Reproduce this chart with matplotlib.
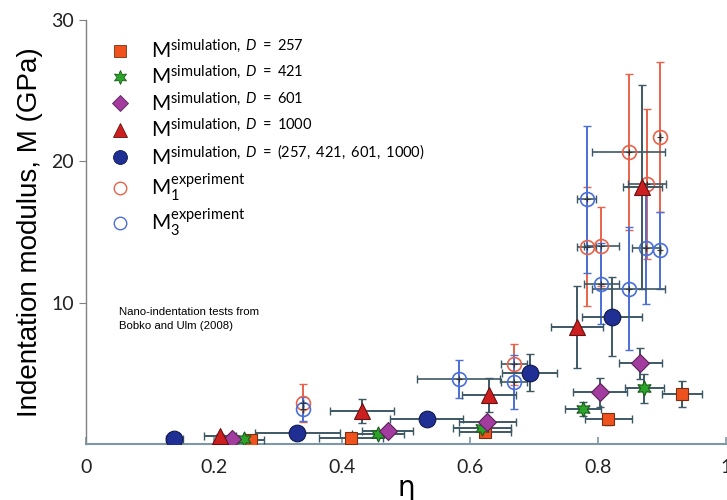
import matplotlib
matplotlib.use("Agg")
import matplotlib.pyplot as plt
from matplotlib.lines import Line2D

plt.rcParams['mathtext.fontset'] = 'custom'
plt.rcParams['mathtext.rm'] = 'Lato'
plt.rcParams['mathtext.it'] = 'Lato:italic'
plt.rcParams['mathtext.bf'] = 'Lato:bold'

# ---- data ----
d257_x = [0.258, 0.414, 0.623, 0.816, 0.931]
d257_y = [0.28, 0.40, 0.87, 1.74, 3.53]
d257_xe = [0.02, 0.05, 0.04, 0.037, 0.031]
d257_ye = [0.15, 0.15, 0.2, 0.4, 0.9]

d421_x = [0.246, 0.456, 0.618, 0.776, 0.872]
d421_y = [0.33, 0.70, 1.15, 2.47, 3.93]
d421_xe = [0.01, 0.04, 0.045, 0.028, 0.03]
d421_ye = [0.1, 0.15, 0.2, 0.5, 1.0]

d601_x = [0.228, 0.471, 0.627, 0.803, 0.866]
d601_y = [0.33, 0.94, 1.53, 3.65, 5.70]
d601_xe = [0.01, 0.04, 0.045, 0.042, 0.033]
d601_ye = [0.1, 0.2, 0.3, 1.0, 1.1]

d1000_x = [0.209, 0.431, 0.629, 0.767, 0.869]
d1000_y = [0.56, 2.36, 3.46, 8.3, 18.2]
d1000_xe = [0.025, 0.05, 0.042, 0.04, 0.031]
d1000_ye = [0.15, 0.85, 1.2, 2.9, 7.2]

dall_x = [0.138, 0.330, 0.532, 0.693, 0.821]
dall_y = [0.33, 0.80, 1.74, 5.04, 9.0]
dall_xe = [0.013, 0.066, 0.057, 0.043, 0.047]
dall_ye = [0.1, 0.2, 0.3, 1.3, 2.8]

m1_x = [0.339, 0.668, 0.782, 0.805, 0.848, 0.876, 0.896]
m1_y = [2.88, 5.65, 13.95, 14.0, 20.65, 18.4, 21.7]
m1_xe = [0.0, 0.02, 0.015, 0.027, 0.057, 0.03, 0.0]
m1_ye = [1.35, 1.45, 4.2, 2.8, 5.5, 5.3, 5.3]

m3_x = [0.339, 0.582, 0.668, 0.782, 0.805, 0.848, 0.874, 0.896]
m3_y = [2.45, 4.6, 4.4, 17.3, 11.35, 11.0, 13.9, 13.7]
m3_xe = [0.0, 0.065, 0.02, 0.015, 0.027, 0.057, 0.022, 0.0]
m3_ye = [0.85, 1.35, 1.9, 5.2, 2.85, 4.35, 4.0, 2.75]

xticks = [0, 0.2, 0.4, 0.6, 0.8, 1]
xticklabels = ['0', '0.2', '0.4', '0.6', '0.8', '1']
yticks = [10, 20, 30]

fig = plt.figure(figsize=(7.27, 5.0), dpi=100)
ax = fig.add_axes([0.1183, 0.112, 0.8807, 0.848])

ecol = '#3d5865'
c1 = '#e8634a'
c3 = '#4a6fd8'

# experiments: coloured vertical bars, dark horizontal bars
ax.errorbar(m1_x, m1_y, yerr=m1_ye, fmt='none', ecolor=c1, elinewidth=1.4, capsize=3, zorder=2)
ax.errorbar(m1_x, m1_y, xerr=m1_xe, fmt='none', ecolor=ecol, elinewidth=1.2, capsize=3, zorder=2)
ax.errorbar(m3_x, m3_y, yerr=m3_ye, fmt='none', ecolor=c3, elinewidth=1.4, capsize=3, zorder=2)
ax.errorbar(m3_x, m3_y, xerr=m3_xe, fmt='none', ecolor=ecol, elinewidth=1.2, capsize=3, zorder=2)
ax.plot(m1_x, m1_y, 'o', ms=10, mfc='none', mec=c1, mew=1.2, zorder=3)
ax.plot(m3_x, m3_y, 'o', ms=10, mfc='none', mec=c3, mew=1.2, zorder=3)
ax.plot(m1_x + m3_x, m1_y + m3_y, '+', ms=4, color='#333333', mew=0.8, zorder=3)

sims = [
    (d257_x, d257_y, d257_xe, d257_ye, 's', '#f0521e', '#7a3010', 9),
    (d421_x, d421_y, d421_xe, d421_ye, (6, 1, 0), '#2aa52a', '#1a5a1a', 11),
    (d601_x, d601_y, d601_xe, d601_ye, 'D', '#a23c9e', '#5a2058', 9),
    (d1000_x, d1000_y, d1000_xe, d1000_ye, '^', '#cc1f1f', '#6a1010', 12),
    (dall_x, dall_y, dall_xe, dall_ye, 'o', '#1f2f94', '#10184a', 12),
]
for xs, ys, xe, ye, mk, fc, ec, ms in sims:
    ax.errorbar(xs, ys, xerr=xe, yerr=ye, fmt='none', ecolor=ecol, elinewidth=1.4,
                capsize=3, zorder=4)
    ax.plot(xs, ys, linestyle='none', marker=mk, ms=ms, mfc=fc, mec=ec, mew=0.8, zorder=5)

ax.set_xlim(0, 1)
ax.set_ylim(0, 30)
ax.set_xticks(xticks)
ax.set_xticklabels(xticklabels)
ax.set_yticks(yticks)
for s in ['top', 'right']:
    ax.spines[s].set_visible(False)
ax.spines['bottom'].set_color('#7f97a4')
ax.spines['bottom'].set_linewidth(1.5)
ax.spines['left'].set_color('#808080')
ax.spines['left'].set_linewidth(1.0)
ax.tick_params(axis='x', direction='in', length=5, color='#7f97a4', width=1.2,
               labelsize=14, pad=11)
ax.tick_params(axis='y', direction='out', length=5, color='#808080', labelsize=14)
for lab in ax.get_xticklabels() + ax.get_yticklabels():
    lab.set_family('Lato')
    lab.set_color('#222222')

ax.set_ylabel('Indentation modulus, M (GPa)', fontsize=20, family='Liberation Sans', labelpad=6)
ax.set_xlabel('η', fontsize=20, family='DejaVu Sans', labelpad=-2)

ax.text(0.052, 0.322, 'Nano-indentation tests from\nBobko and Ulm (2008)',
        transform=ax.transAxes, fontsize=8.2, family='Liberation Sans',
        va='top', ha='left', linespacing=1.45)

handles = [
    Line2D([], [], ls='none', marker='s', ms=8, mfc='#f0521e', mec='#7a3010', mew=0.6),
    Line2D([], [], ls='none', marker=(6, 1, 0), ms=10, mfc='#2aa52a', mec='#1a5a1a', mew=0.6),
    Line2D([], [], ls='none', marker='D', ms=8, mfc='#a23c9e', mec='#5a2058', mew=0.6),
    Line2D([], [], ls='none', marker='^', ms=10, mfc='#cc1f1f', mec='#6a1010', mew=0.6),
    Line2D([], [], ls='none', marker='o', ms=10, mfc='#1f2f94', mec='#10184a', mew=0.6),
    Line2D([], [], ls='none', marker='o', ms=9, mfc='none', mec=c1, mew=1.0),
    Line2D([], [], ls='none', marker='o', ms=9, mfc='none', mec=c3, mew=1.0),
]
labels = [
    r'M$^{\mathrm{simulation,}\ D\ \mathrm{=\ 257}}$',
    r'M$^{\mathrm{simulation,}\ D\ \mathrm{=\ 421}}$',
    r'M$^{\mathrm{simulation,}\ D\ \mathrm{=\ 601}}$',
    r'M$^{\mathrm{simulation,}\ D\ \mathrm{=\ 1000}}$',
    r'M$^{\mathrm{simulation,}\ D\ \mathrm{=\ (257,\ 421,\ 601,\ 1000)}}$',
    r'M$_1^{\mathrm{experiment}}$',
    r'M$_3^{\mathrm{experiment}}$',
]
leg = ax.legend(handles, labels, loc='upper left', bbox_to_anchor=(0.02, 0.975),
                frameon=False, prop={'family': 'Lato', 'size': 15},
                labelspacing=0.17, handletextpad=0.9, handlelength=1.2,
                borderaxespad=0.0)

fig.savefig('out.png', dpi=100)
